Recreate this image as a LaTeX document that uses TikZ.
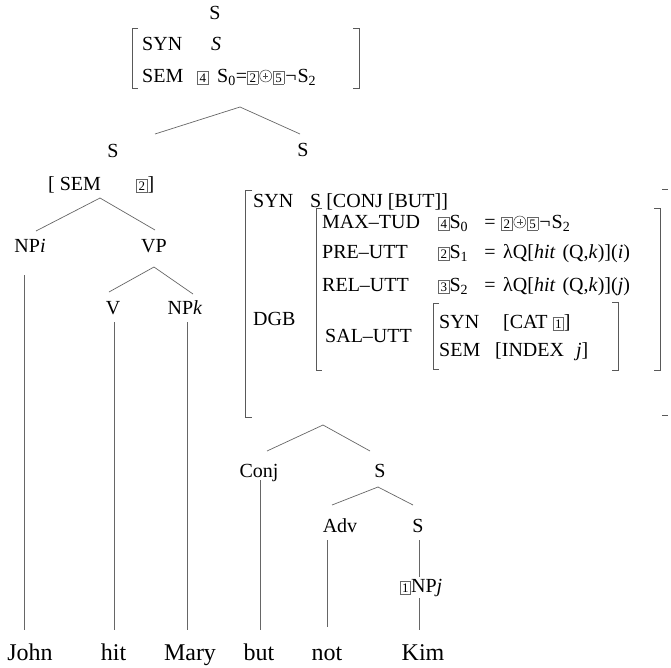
\documentclass[tikz,border=0pt]{standalone}
\usepackage{fontspec}
\setmainfont{Liberation Serif}
\newcommand\bx[1]{{\setlength\fboxsep{1.8pt}\setlength\fboxrule{0.6pt}\fcolorbox{black!60}{white}{\fontsize{13}{13}\selectfont\makebox[6.5pt]{#1}}}}
\newcommand\opl{\kern1pt\tikz[baseline={(0pt,-6pt)}]{\draw[black!70,line width=0.55pt] (0pt,0pt) circle[radius=6pt]; \draw[black!70,line width=0.55pt] (-2.8pt,0pt)--(2.8pt,0pt) (0pt,-2.8pt)--(0pt,2.8pt);}\kern1pt}
\begin{document}
\begin{tikzpicture}[x=1pt,y=-1pt,
  lbl/.style={inner sep=0pt,anchor=base,font=\fontsize{20}{24}\selectfont},
  lw/.style={inner sep=0pt,anchor=base west,font=\fontsize{20}{24}\selectfont},
  word/.style={inner sep=0pt,anchor=base,font=\fontsize{24}{28}\selectfont},
  edge/.style={draw=black!60,line width=0.7pt},
  brk/.style={draw=black!65,line width=0.7pt}]
\useasboundingbox (0,0) rectangle (671,667);

% ---------- top ----------
\node[lbl] (topS) at (215,19) {S};
\draw[brk] (138,28) -- (132,28) -- (132,88) -- (138,88);
\draw[brk] (353,28) -- (359,28) -- (359,88) -- (353,88);
\node[lw] (tsyn) at (142,50) {SYN};
\node[lbl] (tsynv) at (216,50) {\textit{S}};
\node[lw] (tsem) at (142,82) {SEM};
\node[lw] (tb4) at (197,82) {\bx{4}};
\node[lw] (tsemv) at (217,82) {S\textsubscript{0}=\bx{2}\opl\bx{5}\kern1pt¬\kern1pt S\textsubscript{2}};

\coordinate (t0) at (240,107);
\coordinate (t1) at (155,134);
\coordinate (t2) at (300,134);
\draw[edge] (t1) -- (t0) -- (t2);

% ---------- left subtree ----------
\node[lbl] (lS) at (113,157) {S};
\node[lw] (lsem) at (48,190) {[\ SEM};
\node[lw] (lsemv) at (136,190) {\bx{2}]};
\coordinate (l0) at (100,198);
\coordinate (l1) at (36,231);
\coordinate (l2) at (155,230);
\draw[edge] (l1) -- (l0) -- (l2);

\node[lbl] (np1) at (30,252) {NP\textit{i}};
\node[lbl] (vp) at (154,252) {VP};
\coordinate (v0) at (154,267);
\coordinate (v1) at (109,292);
\coordinate (v2) at (193,294);
\draw[edge] (v1) -- (v0) -- (v2);
\node[lbl] (vv) at (113,314) {V};
\node[lbl] (npk) at (185,314) {NP\textit{k}};

% words
\node[word] (john) at (30,660) {John};
\node[word] (hit) at (113.5,660) {hit};
\node[word] (mary) at (190,660) {Mary};
\node[word] (but) at (259,660) {but};
\node[word] (not) at (327,660) {not};
\node[word] (kim) at (423,660) {Kim};

\coordinate (c1a) at (24,275);  \coordinate (c1b) at (24,630);
\coordinate (c2a) at (114,322); \coordinate (c2b) at (114,630);
\coordinate (c3a) at (187,322); \coordinate (c3b) at (187,630);
\draw[edge] (c1a) -- (c1b);
\draw[edge] (c2a) -- (c2b);
\draw[edge] (c3a) -- (c3b);

% ---------- right subtree ----------
\node[lbl] (rS) at (303,156) {S};
\draw[brk] (252,190) -- (245,190) -- (245,417) -- (252,417);
\draw[brk] (662,189) -- (668,189);
\draw[brk] (662,415) -- (668,415);
\node[lw] (rsyn) at (253,207) {SYN};
\node[lw] (rsynv) at (310,207) {S [CONJ [BUT]]};
\node[lw] (dgb) at (253,325) {DGB};

\draw[brk] (322,208) -- (316,208) -- (316,370) -- (322,370);
\draw[brk] (654,208) -- (660,208) -- (660,370) -- (654,370);

\node[lw] (max) at (322,228) {MAX–TUD};
\node[lw] (maxb) at (438,228) {\bx{4}S\textsubscript{0}};
\node[lbl] (maxeq) at (490,228) {=};
\node[lw] (maxv) at (501,228) {\bx{2}\opl\bx{5}\kern1pt¬\kern1pt S\textsubscript{2}};

\node[lw] (pre) at (322,258) {PRE–UTT};
\node[lw] (preb) at (438,258) {\bx{2}S\textsubscript{1}};
\node[lbl] (preeq) at (490,258) {=};
\node[lw] (prev) at (503,258) {λQ[\textit{hit}\hspace{7pt}(Q,\textit{k})](\textit{i})};

\node[lw] (rel) at (322,291) {REL–UTT};
\node[lw] (relb) at (438,291) {\bx{3}S\textsubscript{2}};
\node[lbl] (releq) at (490,291) {=};
\node[lw] (relv) at (503,291) {λQ[\textit{hit}\hspace{7pt}(Q,\textit{k})](\textit{j})};

\node[lw] (sal) at (325,342) {SAL–UTT};
\draw[brk] (439,303) -- (433,303) -- (433,369) -- (439,369);
\draw[brk] (612,302) -- (618,302) -- (618,370) -- (612,370);
\node[lw] (ssyn) at (439,328) {SYN};
\node[lw] (ssynv) at (503,328) {[CAT \bx{1}]};
\node[lw] (ssem) at (439,356) {SEM};
\node[lw] (ssemv) at (495,356) {[INDEX\hspace{12pt}\textit{j}]};

% lower right tree
\coordinate (r0) at (323,425);
\coordinate (r1) at (267,451);
\coordinate (r2) at (370,451);
\draw[edge] (r1) -- (r0) -- (r2);
\node[lbl] (conj) at (259,477) {Conj};
\node[lbl] (s2) at (380,477) {S};
\coordinate (s0) at (378,487);
\coordinate (s1) at (332,505);
\coordinate (s3) at (413,505);
\draw[edge] (s1) -- (s0) -- (s3);
\node[lbl] (adv) at (340,532) {Adv};
\node[lbl] (s4) at (418,532) {S};
\node[lbl] (npj) at (421,592) {\bx{1}NP\textit{j}};

\coordinate (c4a) at (260,480); \coordinate (c4b) at (260,630);
\coordinate (c5a) at (327,540); \coordinate (c5b) at (327,627);
\coordinate (c6a) at (419,540); \coordinate (c6b) at (419,577);
\coordinate (c7a) at (419,598); \coordinate (c7b) at (419,630);
\draw[edge] (c4a) -- (c4b);
\draw[edge] (c5a) -- (c5b);
\draw[edge] (c6a) -- (c6b);
\draw[edge] (c7a) -- (c7b);
\end{tikzpicture}
\end{document}
